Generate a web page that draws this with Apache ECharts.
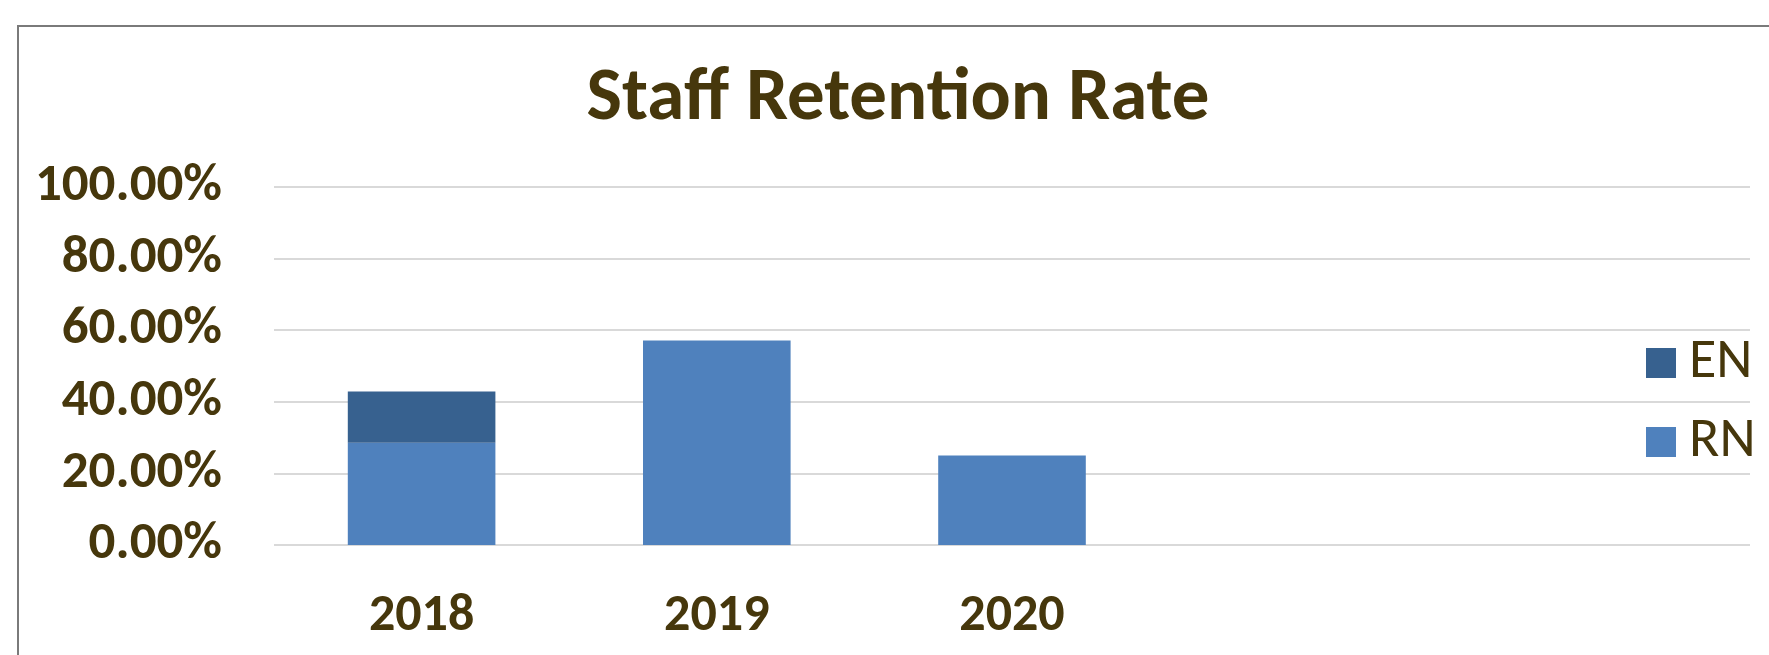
<!DOCTYPE html>
<html>
<head>
<meta charset="utf-8">
<script src="https://cdn.jsdelivr.net/npm/echarts@6/dist/echarts.min.js"></script>
<style>
html,body{margin:0;padding:0;background:#fff;}
#chart{width:1769px;height:655px;}
</style>
</head>
<body>
<div id="chart"></div>
<script>
const titleText = 'Staff Retention Rate';
const categories = ['2018', '2019', '2020', '', ''];
const seriesNames = ['RN', 'EN'];
const rnValues = [0.2857, 0.5714, 0.25, null, null];
const enValues = [0.1429, null, null, null, null];
const yTicks = [0, 0.2, 0.4, 0.6, 0.8, 1.0];

const textColor = '#46370c';
const fontFam = 'Carlito, Lato, "Open Sans", sans-serif';

const chart = echarts.init(document.getElementById('chart'), null, {renderer: 'canvas'});
chart.setOption({
  animation: false,
  backgroundColor: '#ffffff',
  graphic: [{
    type: 'rect',
    shape: {x: 18, y: 26, width: 1800, height: 700},
    style: {fill: 'none', stroke: '#7a7a7a', lineWidth: 2},
    silent: true,
    z: -1
  }],
  title: {
    text: titleText,
    left: 898,
    textAlign: 'center',
    top: 63,
    padding: 0,
    textStyle: {fontFamily: fontFam, fontWeight: 'bold', fontSize: 75, color: textColor}
  },
  legend: {
    orient: 'vertical',
    left: 1646,
    top: 335,
    padding: 0,
    itemWidth: 30,
    itemHeight: 30,
    itemGap: 23,
    data: ['EN', 'RN'],
    icon: 'rect',
    textStyle: {fontFamily: fontFam, fontSize: 56, color: textColor, lineHeight: 30, padding: [0, 0, 0, 8]}
  },
  grid: {left: 274, right: 19, top: 187, bottom: 110, containLabel: false},
  xAxis: {
    type: 'category',
    data: categories,
    axisLine: {show: false},
    axisTick: {show: false},
    axisLabel: {fontFamily: fontFam, fontWeight: 'bold', fontSize: 52, color: textColor, margin: 46}
  },
  yAxis: {
    type: 'value',
    min: yTicks[0],
    max: yTicks[yTicks.length - 1],
    interval: 0.2,
    axisLine: {show: false},
    axisTick: {show: false},
    splitLine: {lineStyle: {color: '#d9d9d9', width: 2}},
    axisLabel: {
      fontFamily: fontFam, fontWeight: 'bold', fontSize: 53, color: textColor, margin: 52,
      formatter: v => (v * 100).toFixed(2) + '%'
    }
  },
  series: [
    {name: seriesNames[0], type: 'bar', stack: 'total', data: rnValues, barCategoryGap: '50%', itemStyle: {color: '#4f81bd'}},
    {name: seriesNames[1], type: 'bar', stack: 'total', data: enValues, barCategoryGap: '50%', itemStyle: {color: '#37618f'}}
  ]
});
</script>
</body>
</html>
